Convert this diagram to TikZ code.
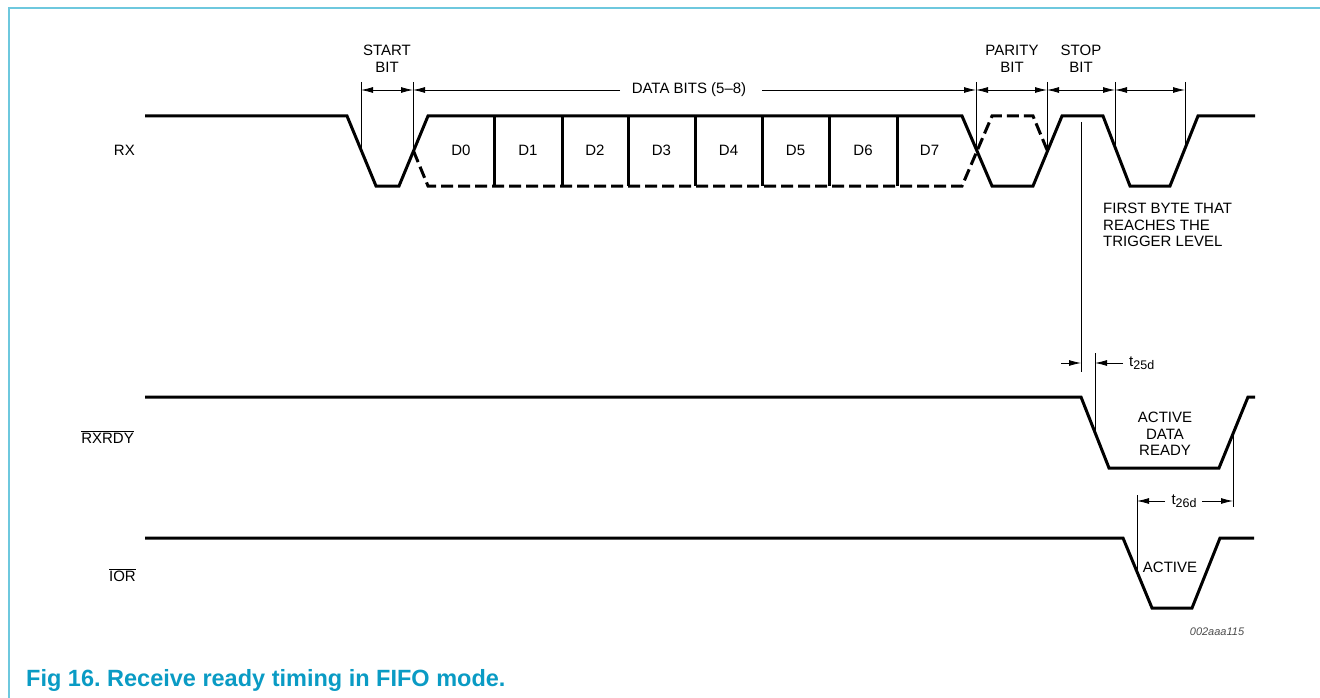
\documentclass[tikz,border=0pt]{standalone}
\usepackage{fontspec}
\setmainfont{Liberation Sans}
\usepackage{xcolor}
\usetikzlibrary{arrows.meta}

\definecolor{framecol}{RGB}{110,200,222}
\definecolor{capcol}{RGB}{10,155,196}

\newcommand{\ovl}[1]{$\overline{\mbox{#1}}$}
\newcommand{\tsub}[1]{\raisebox{-0.45ex}{\fontsize{12.5}{13}\selectfont #1}}

\begin{document}
\begin{tikzpicture}[x=1pt, y=-1pt,
    every node/.style={font=\fontsize{15}{16.5}\selectfont, inner sep=0pt},
    sig/.style={line width=3pt, line join=miter},
    dsig/.style={sig, dash pattern=on 12pt off 5pt},
    dim/.style={line width=0.8pt},
    tip/.style={-{Latex[length=12pt,width=6pt]}},
    both/.style={{Latex[length=12pt,width=6pt]}-{Latex[length=12pt,width=6pt]}}]
    \useasboundingbox (0,0) rectangle (1320,698);
    % frame and caption
    \draw[framecol, line width=2pt] (8.5,698) -- (8.5,8.5) -- (1320,8.5);
    \node[anchor=base west, text=capcol, font=\fontsize{23.5}{25}\selectfont\bfseries] (cap) at (26,686)
      {Fig 16.\ Receive ready timing in FIFO mode.};
    \node[text=black!70, font=\fontsize{11}{12}\selectfont\itshape] (ref) at (1217,632) {002aaa115};

    % signal names
    \node[anchor=east] (rx) at (135,150) {RX};
    \node[anchor=east] (rxrdy) at (134,437) {\ovl{RXRDY}};
    \node[anchor=east] (ior) at (136,575) {\ovl{IOR}};

    % RX line
    \draw[sig] (145,116) -- (347,116) -- (376,186) -- (399,186) -- (428,116) -- (962,116)
      -- (992,186) -- (1033,186) -- (1062,116) -- (1103,116) -- (1130,186) -- (1170,186)
      -- (1198,116) -- (1255,116);
    \draw[dsig] (413.5,151) -- (428,186) -- (962,186) -- (992,116) -- (1033,116) -- (1047.5,151);
    \foreach \x in {494,562,628,695,762,829,897}
      \draw[sig] (\x,116) -- (\x,186);
    \foreach \x/\t in {461/D0,528/D1,595/D2,661.5/D3,728.5/D4,795.5/D5,863/D6,929.5/D7}
      \node (\t) at (\x,150) {\t};

    % bit widths
    \foreach \x/\y in {361/150,413/151,976/151,1047/151,1115/148,1185/149}
      \draw[dim] (\x,82) -- (\x,\y);
    \draw[dim,both] (361,90) -- (413,90);
    \draw[dim,tip] (620,90) -- (413,90);
    \node (databits) at (689,90) {DATA BITS (5--8)};
    \draw[dim,tip] (762,90) -- (976,90);
    \draw[dim,both] (976,90) -- (1047,90);
    \draw[dim,both] (1047,90) -- (1115,90);
    \draw[dim,both] (1115,90) -- (1185,90);
    \node[align=center] (start) at (387,59) {START\\BIT};
    \node[align=center] (parity) at (1012,59) {PARITY\\BIT};
    \node[align=center] (stop) at (1081,59) {STOP\\BIT};
    \node[anchor=north west, align=left] (first) at (1103,203) {FIRST BYTE THAT\\REACHES THE\\TRIGGER LEVEL};

    % RXRDY line
    \draw[dim] (1081,122) -- (1081,372);
    \draw[dim] (1095,353) -- (1095,432);
    \draw[dim,tip] (1061,363) -- (1081,363);
    \draw[dim,tip] (1123,363) -- (1095,363);
    \node[anchor=west] (t25) at (1129,363) {t\tsub{25d}};
    \draw[sig] (145,397) -- (1081,397) -- (1109,468) -- (1219,468) -- (1248,397) -- (1255,397);
    \node[align=center] (adr) at (1165,434) {ACTIVE\\DATA\\READY};

    % IOR line
    \draw[dim] (1233,434) -- (1233,507);
    \draw[dim] (1137,495) -- (1137,572);
    \draw[dim,tip] (1165,501) -- (1137,501);
    \draw[dim,tip] (1202,501) -- (1233,501);
    \node (t26) at (1184,501) {t\tsub{26d}};
    \draw[sig] (145,538) -- (1123,538) -- (1152,608) -- (1192,608) -- (1220,538) -- (1254,538);
    \node (act) at (1170,567) {ACTIVE};
\end{tikzpicture}
\end{document}
